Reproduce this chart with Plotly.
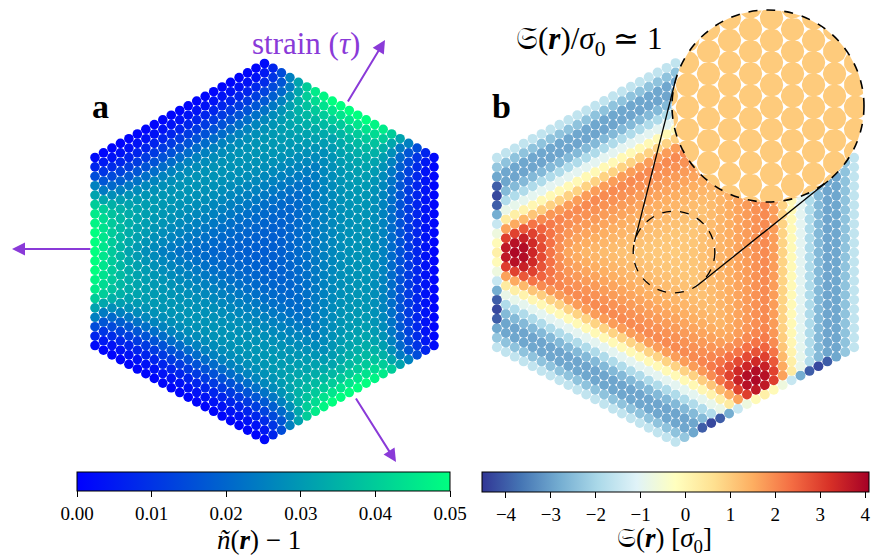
import numpy as np
import plotly.graph_objects as go
from plotly.colors import sample_colorscale

W, H = 871, 558
FONT = "Liberation Serif"
PURPLE = "#8a3ad8"

# ---------------- data ----------------
N_SIDE = 20  # particles per hexagon side minus one

# panel a: density  n~(r) - 1  as a profile of the triangular coordinate t
DENSITY_T = [0.0, 0.1, 0.2, 0.3, 0.4, 0.5, 0.55, 0.6, 0.65, 0.7, 0.75, 0.8, 0.866]
DENSITY_G = [0.018, 0.019, 0.021, 0.025, 0.028, 0.029, 0.028, 0.026, 0.021, 0.015, 0.010, 0.005, 0.001]
# boundary particles on the strained edges, vs distance from edge middle
DENSITY_EDGE_S = [0.0, 0.1, 0.2, 0.25, 0.3, 0.35, 0.4, 0.45, 0.5]
DENSITY_EDGE_V = [0.050, 0.050, 0.046, 0.040, 0.032, 0.025, 0.015, 0.007, 0.002]
DENSITY_LOAD_AMP = [0.024]
DENSITY_LOAD_DECAY = [0.12]
LOAD_PROFILE_S = [0.0, 0.22, 0.36, 0.5]
LOAD_PROFILE_V = [1.0, 0.9, 0.35, 0.0]
DENSITY_RANGE = [0.0, 0.05]
DENSITY_TICKS = [0.00, 0.01, 0.02, 0.03, 0.04, 0.05]

# panel b: stress S(r) [sigma0]
STRESS_T = [0.0, 0.1, 0.2, 0.3, 0.4, 0.46, 0.5, 0.545, 0.58, 0.62, 0.67, 0.72, 0.77, 0.81, 0.84, 0.866]
STRESS_G = [1.0, 1.1, 1.3, 1.6, 1.9, 2.0, 1.3, 0.3, -0.4, -1.3, -2.3, -2.9, -3.0, -2.6, -2.1, -1.6]
STRESS_EDGE_S = [0.0, 0.05, 0.1, 0.15, 0.2, 0.25, 0.3, 0.35, 0.4, 0.45, 0.5]
STRESS_EDGE_V = [0.2, -0.1, -0.7, -1.5, -2.8, -4.0, -4.3, -4.0, -2.9, -2.3, -1.6]
STRESS_HOT_R = [0.76]
STRESS_HOT_AMP = [2.1]
STRESS_HOT_W = [0.1]
STRESS_RANGE = [-4.54, 4.08]
STRESS_TICKS = [-4, -3, -2, -1, 0, 1, 2, 3, 4]
INSET_VALUE = 1.0

# ---------------- lattice ----------------
cols, rows = [], []
for i in range(-N_SIDE, N_SIDE + 1):
    m = 2 * N_SIDE - abs(i)
    for k in range(m + 1):
        cols.append(i)
        rows.append(-m / 2 + k)
I = np.array(cols, float)
J = np.array(rows, float)
HALF = np.sqrt(3) / 2
X = I * HALF / N_SIDE
Y = J / N_SIDE
P = np.stack([X, Y], 1)
ang_u = np.deg2rad([0, 120, 240])
ang_l = np.deg2rad([180, 60, 300])
U = np.stack([np.cos(ang_u), np.sin(ang_u)], 1)
Lm = np.stack([np.cos(ang_l), np.sin(ang_l)], 1)
Ls = np.stack([-np.sin(ang_l), np.cos(ang_l)], 1)
t = (P @ U.T).max(1)
e = P @ Lm.T
s = P @ Ls.T
kn = e.argmax(1)
idx = np.arange(len(X))
depth = HALF - e[idx, kn]
s_near = np.abs(s[idx, kn])
on_loaded = depth < 1e-6

prof = np.interp(s_near, LOAD_PROFILE_S, LOAD_PROFILE_V)
dens = np.interp(t, DENSITY_T, DENSITY_G) + DENSITY_LOAD_AMP[0] * np.exp(-depth / DENSITY_LOAD_DECAY[0]) * prof
dens[on_loaded] = np.interp(s_near[on_loaded], DENSITY_EDGE_S, DENSITY_EDGE_V)

stress = np.interp(t, STRESS_T, STRESS_G)
for a in ang_l:
    hx, hy = STRESS_HOT_R[0] * np.cos(a), STRESS_HOT_R[0] * np.sin(a)
    stress += STRESS_HOT_AMP[0] * np.exp(-((X - hx) ** 2 + (Y - hy) ** 2) / (2 * STRESS_HOT_W[0] ** 2))
stress[on_loaded] = np.interp(s_near[on_loaded], STRESS_EDGE_S, STRESS_EDGE_V)

# ---------------- geometry (pixels) ----------------
LCX, LCY, LSX, LSY = 264.5, 251.5, 8.475, 9.4
RCX, RCY, RSX, RSY = 675.5, 252.5, 8.93, 9.47
SCPX, SCPY, SR = 674.0, 252.0, 40.8      # small dashed circle
BCX, BCY, BR = 768.0, 106.0, 96.0        # magnifier
MAG = BR / SR
LMS, RMS = 9.6, 9.9


def dom_x(c, sc, half):
    return [(c - half * sc) / W, (c + half * sc) / W]


def dom_y(c, sc, half):
    return [1 - (c + half * sc) / H, 1 - (c - half * sc) / H]


WINTER = [[0, "rgb(0,0,255)"], [1, "rgb(0,255,128)"]]
RDYLBU_R = [[i / 10, c] for i, c in enumerate(
    ["#313695", "#4575b4", "#74add1", "#abd9e9", "#e0f3f8", "#ffffbf",
     "#fee090", "#fdae61", "#f46d43", "#d73027", "#a50026"])]

fig = go.Figure()
tickfont = dict(family=FONT, size=19, color="black")

fig.add_trace(go.Scatter(
    x=I, y=J, mode="markers", xaxis="x", yaxis="y", hoverinfo="skip",
    marker=dict(size=LMS, color=dens, colorscale=WINTER, cmin=DENSITY_RANGE[0], cmax=DENSITY_RANGE[1],
                line=dict(width=0), showscale=True,
                colorbar=dict(orientation="h", x=(77 + 450) / 2 / W, xanchor="center",
                              y=1 - 472 / H, yanchor="top", len=(450 - 77) / W, lenmode="fraction",
                              thickness=19, xpad=0, ypad=0, outlinewidth=1, outlinecolor="black",
                              ticks="outside", ticklen=6, tickwidth=1, tickcolor="black",
                              tickvals=DENSITY_TICKS, ticktext=[f"{v:.2f}" for v in DENSITY_TICKS],
                              tickfont=tickfont)),
    showlegend=False))

fig.add_trace(go.Scatter(
    x=I, y=J, mode="markers", xaxis="x2", yaxis="y2", hoverinfo="skip",
    marker=dict(size=RMS, color=stress, colorscale=RDYLBU_R, cmin=STRESS_RANGE[0], cmax=STRESS_RANGE[1],
                line=dict(width=0), showscale=True,
                colorbar=dict(orientation="h", x=(482 + 868.5) / 2 / W, xanchor="center",
                              y=1 - 472 / H, yanchor="top", len=(868.5 - 482) / W, lenmode="fraction",
                              thickness=20, xpad=0, ypad=0, outlinewidth=1, outlinecolor="black",
                              ticks="outside", ticklen=6, tickwidth=1, tickcolor="black",
                              tickvals=STRESS_TICKS,
                              ticktext=[str(v).replace("-", "\u2212") for v in STRESS_TICKS],
                              tickfont=tickfont)),
    showlegend=False))

# ---------------- magnifier inset ----------------
scx = (SCPX - RCX) / RSX
scy = (RCY - SCPY) / RSY
kx, ky = MAG * RSX, MAG * RSY
u = (I - scx) * kx
v = (J - scy) * ky
rp = MAG * RMS / 2
sel = np.hypot(u, v) < BR + rp
th = np.linspace(0, 2 * np.pi, 48)
px_all, py_all = [], []
for uu, vv in zip(u[sel], v[sel]):
    pu = uu + rp * np.cos(th)
    pv = vv + rp * np.sin(th)
    r = np.hypot(pu, pv)
    f = np.minimum(1.0, BR / r)
    pu, pv = pu * f, pv * f
    px_all += list(scx + pu / kx) + [None]
    py_all += list(scy + pv / ky) + [None]

thd = np.linspace(0, 2 * np.pi, 200)
fig.add_trace(go.Scatter(x=scx + BR * np.cos(thd) / kx, y=scy + BR * np.sin(thd) / ky,
                         xaxis="x3", yaxis="y3", mode="lines", fill="toself", fillcolor="white",
                         line=dict(width=0, color="white"), hoverinfo="skip", showlegend=False))
inset_color = sample_colorscale(RDYLBU_R, [(INSET_VALUE - STRESS_RANGE[0]) / (STRESS_RANGE[1] - STRESS_RANGE[0])])[0]
fig.add_trace(go.Scatter(x=px_all, y=py_all, xaxis="x3", yaxis="y3", mode="lines", fill="toself",
                         fillcolor=inset_color, line=dict(width=0, color=inset_color),
                         hoverinfo="skip", showlegend=False))

shapes = []
shapes.append(dict(type="circle", xref="x3", yref="y3", x0=scx - BR / kx, x1=scx + BR / kx,
                   y0=scy - BR / ky, y1=scy + BR / ky, line=dict(color="black", width=1.6, dash="dash"),
                   layer="above"))
shapes.append(dict(type="circle", xref="x2", yref="y2", x0=scx - SR / RSX, x1=scx + SR / RSX,
                   y0=scy - SR / RSY, y1=scy + SR / RSY, line=dict(color="black", width=1.3, dash="dash"),
                   layer="above"))
# external tangents between the two circles (pixel frame, y down)
c1 = np.array([SCPX, SCPY]); c2 = np.array([BCX, BCY])
d = c2 - c1; Ld = np.linalg.norm(d); dh = d / Ld
a = (SR - BR) / Ld
for sgn in (1, -1):
    n = a * dh + sgn * np.sqrt(1 - a * a) * np.array([-dh[1], dh[0]])
    p1 = c1 + SR * n; p2 = c2 + BR * n
    shapes.append(dict(type="line", xref="paper", yref="paper", x0=p1[0] / W, y0=1 - p1[1] / H,
                       x1=p2[0] / W, y1=1 - p2[1] / H, line=dict(color="black", width=1.3),
                       layer="above"))

# ---------------- annotations ----------------
ann = []


def arrow(hx, hy, tx, ty):
    ann.append(dict(x=hx / W, y=1 - hy / H, xref="paper", yref="paper", ax=tx - hx, ay=ty - hy,
                    axref="pixel", ayref="pixel", text="", showarrow=True, arrowhead=2, arrowsize=1.3,
                    arrowwidth=2, arrowcolor=PURPLE))


arrow(12, 249, 92, 249)
arrow(385, 40, 347, 103)
arrow(396, 462, 355, 397)


def label(txt, x, y, size, color="black"):
    ann.append(dict(x=x / W, y=1 - y / H, xref="paper", yref="paper", text=txt, showarrow=False,
                    xanchor="center", yanchor="middle", font=dict(family=FONT, size=size, color=color)))


label("strain (<i>τ</i>)", 306, 43, 31, PURPLE)
label("<b>a</b>", 100, 106, 34)
label("<b>b</b>", 501, 106, 34)
label("𝔖(<b><i>r</i></b>)/<i>σ</i><sub>0</sub> ≃ 1", 589, 41, 31)
label("<i>ñ</i>(<b><i>r</i></b>) − 1", 259, 540, 27)
label("𝔖(<b><i>r</i></b>) [<i>σ</i><sub>0</sub>]", 664, 540, 27)

ax_off = dict(visible=False, showgrid=False, zeroline=False, fixedrange=True)
fig.update_layout(
    width=W, height=H, margin=dict(l=0, r=0, t=0, b=0),
    paper_bgcolor="white", plot_bgcolor="rgba(0,0,0,0)",
    xaxis=dict(ax_off, domain=dom_x(LCX, LSX, 22), range=[-22, 22]),
    yaxis=dict(ax_off, domain=dom_y(LCY, LSY, 22), range=[-22, 22]),
    xaxis2=dict(ax_off, domain=dom_x(RCX, RSX, 21.5), range=[-21.5, 21.5]),
    yaxis2=dict(ax_off, domain=dom_y(RCY, RSY, 22), range=[-22, 22]),
    xaxis3=dict(ax_off, domain=[(BCX - 100) / W, (BCX + 100) / W], range=[scx - 100 / kx, scx + 100 / kx]),
    yaxis3=dict(ax_off, domain=[1 - (BCY + 100) / H, 1 - (BCY - 100) / H], range=[scy - 100 / ky, scy + 100 / ky]),
    shapes=shapes, annotations=ann, showlegend=False,
)
fig.write_html("out.html")
